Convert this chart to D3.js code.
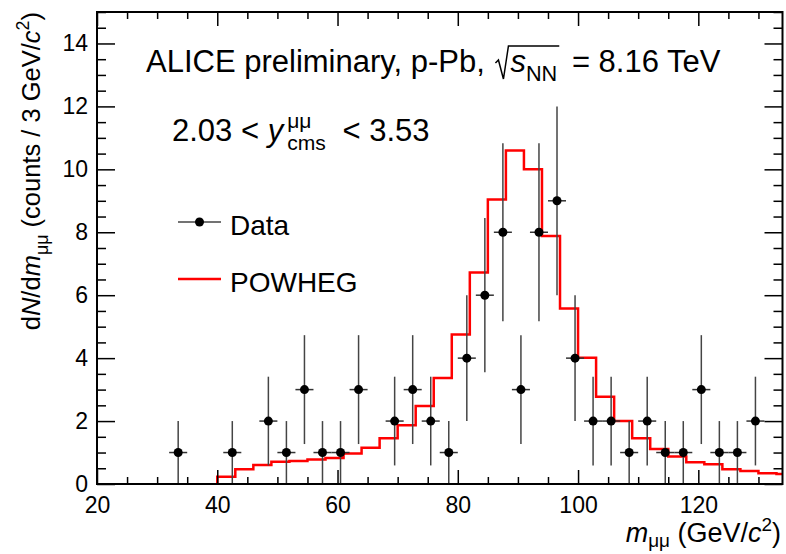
<!DOCTYPE html>
<html>
<head>
<meta charset="utf-8">
<script src="https://cdn.jsdelivr.net/npm/d3@7"></script>
<style>
  body { margin: 0; background: #fff; }
  text { font-family: "Liberation Sans", Arial, Helvetica, sans-serif; fill: #000; white-space: pre; }
</style>
</head>
<body>
<div id="chart"></div>
<script>
// data points: bin centres (GeV/c2), counts and read-off errors
const dataMass = [33.5, 42.5, 48.5, 51.5, 54.5, 57.5, 60.5, 63.5, 69.5, 72.5, 75.5, 78.5, 81.5, 84.5, 87.5,
  90.5, 93.5, 96.5, 99.5, 102.5, 105.5, 108.5, 111.5, 114.5, 117.5, 120.5, 123.5, 126.5, 129.5];
const dataCounts = [1, 1, 2, 1, 3, 1, 1, 3, 2, 3, 2, 1, 4, 6, 8, 3, 8, 9, 4, 2, 2, 1, 2, 1, 1, 3, 1, 1, 2];
const dataErr = [1, 1, 1.41, 1, 1.73, 1, 1, 1.73, 1.41, 1.73, 1.41, 1, 2, 2.45, 2.83, 1.73, 2.83, 3, 2, 1.41,
  1.41, 1, 1.41, 1, 1, 1.73, 1, 1, 1.41];
const binHalfWidth = 1.5;

// POWHEG histogram: lower bin edges and contents
const powhegEdges = [40, 43, 46, 49, 52, 55, 58, 61, 64, 67, 70, 73, 76, 79, 82, 85, 88, 91, 94, 97, 100,
  103, 106, 109, 112, 115, 118, 121, 124, 127, 130, 133];
const powhegValues = [0.23, 0.47, 0.6, 0.71, 0.73, 0.78, 0.83, 0.97, 1.15, 1.45, 1.87, 2.48, 3.37, 4.75,
  6.72, 9.04, 10.6, 10.0, 7.88, 5.58, 4.01, 2.77, 2.0, 1.45, 1.11, 0.87, 0.69, 0.63, 0.47, 0.41, 0.34, 0.32];
const powhegBinWidth = 3;

const xTicks = [20, 40, 60, 80, 100, 120];
const yTicks = [0, 2, 4, 6, 8, 10, 12, 14];

const W = 786, H = 554;
const margin = { top: 12, right: 3.5, bottom: 70, left: 97 };
const width = W - margin.left - margin.right;
const height = H - margin.top - margin.bottom;

const svg = d3.select('#chart').append('svg')
  .attr('width', W).attr('height', H);

const g = svg.append('g')
  .attr('transform', `translate(${margin.left},${margin.top})`);

const x = d3.scaleLinear().domain([20, 134]).range([0, width]);
const y = d3.scaleLinear().domain([0, 15]).range([height, 0]);

g.append('clipPath').attr('id', 'clip')
  .append('rect').attr('width', width).attr('height', height);

// histogram
const histPts = [{ x: powhegEdges[0], y: 0 }];
powhegEdges.forEach((e, i) => histPts.push({ x: e, y: powhegValues[i] }));
const last = powhegEdges.length - 1;
histPts.push({ x: powhegEdges[last] + powhegBinWidth, y: powhegValues[last] });

const line = d3.line()
  .x(d => x(d.x))
  .y(d => y(d.y))
  .curve(d3.curveStepAfter);

g.append('path')
  .datum(histPts)
  .attr('clip-path', 'url(#clip)')
  .attr('fill', 'none')
  .attr('stroke', '#ff0000')
  .attr('stroke-width', 2.5)
  .attr('d', line);

// data points
const pts = dataMass.map((m, i) => ({ m, n: dataCounts[i], e: dataErr[i] }));
const pg = g.append('g');
pg.selectAll('.ey').data(pts).enter().append('line')
  .attr('x1', d => x(d.m)).attr('x2', d => x(d.m))
  .attr('y1', d => y(d.n - d.e)).attr('y2', d => y(d.n + d.e))
  .attr('stroke', '#444').attr('stroke-width', 1.5);
pg.selectAll('.ex').data(pts).enter().append('line')
  .attr('x1', d => x(d.m - binHalfWidth)).attr('x2', d => x(d.m + binHalfWidth))
  .attr('y1', d => y(d.n)).attr('y2', d => y(d.n))
  .attr('stroke', '#333').attr('stroke-width', 1.5);
pg.selectAll('circle').data(pts).enter().append('circle')
  .attr('cx', d => x(d.m)).attr('cy', d => y(d.n)).attr('r', 4.5)
  .attr('fill', '#000');

// axes
const xMinor = d3.range(20, 135, 5).filter(v => v % 20 !== 0);
const yMinor = d3.range(0, 15.01, 0.5).filter(v => v % 2 !== 0);

function styleAxis(sel) {
  sel.select('.domain').remove();
  sel.selectAll('line').attr('stroke', '#000').attr('stroke-width', 1.5);
  sel.selectAll('text').attr('font-size', 23).attr('fill', '#000')
    .attr('font-family', '"Liberation Sans", Arial, sans-serif');
}

g.append('g').attr('transform', `translate(0,${height})`)
  .call(d3.axisBottom(x).tickValues(xTicks).tickSize(-14).tickPadding(13).tickFormat(d3.format('d')))
  .call(styleAxis);
g.append('g').attr('transform', `translate(0,${height})`)
  .call(d3.axisBottom(x).tickValues(xMinor).tickSize(-7).tickFormat(''))
  .call(styleAxis);
g.append('g')
  .call(d3.axisTop(x).tickValues(xTicks).tickSize(-14).tickFormat(''))
  .call(styleAxis);
g.append('g')
  .call(d3.axisTop(x).tickValues(xMinor).tickSize(-7).tickFormat(''))
  .call(styleAxis);

g.append('g')
  .call(d3.axisLeft(y).tickValues(yTicks).tickSize(-18).tickPadding(9).tickFormat(d3.format('d')))
  .call(styleAxis);
g.append('g')
  .call(d3.axisLeft(y).tickValues(yMinor).tickSize(-9).tickFormat(''))
  .call(styleAxis);
g.append('g').attr('transform', `translate(${width},0)`)
  .call(d3.axisRight(y).tickValues(yTicks).tickSize(-18).tickFormat(''))
  .call(styleAxis);
g.append('g').attr('transform', `translate(${width},0)`)
  .call(d3.axisRight(y).tickValues(yMinor).tickSize(-9).tickFormat(''))
  .call(styleAxis);

g.append('rect')
  .attr('width', width).attr('height', height)
  .attr('fill', 'none').attr('stroke', '#000').attr('stroke-width', 2);

// rich text helper: pieces placed one after another
function rich(parent, parts, size, subShift = 0.3) {
  let cx = 0;
  parts.forEach(p => {
    if (p.stack) {
      const fs = size * 0.68;
      const a = parent.append('text').attr('x', cx).attr('y', -size * 0.42)
        .attr('font-size', fs).text(p.stack[0]);
      const b = parent.append('text').attr('x', cx).attr('y', size * 0.3)
        .attr('font-size', fs).text(p.stack[1]);
      cx += Math.max(a.node().getComputedTextLength(), b.node().getComputedTextLength()) + (p.gap || 0);
      return;
    }
    const fs = p.sub || p.sup ? size * 0.7 : size;
    const dy = p.sub ? size * subShift : p.sup ? -size * 0.42 : 0;
    const t = parent.append('text').attr('x', cx).attr('y', dy)
      .attr('font-size', fs).text(p.t);
    if (p.it) t.attr('font-style', 'italic');
    cx += t.node().getComputedTextLength() + (p.gap || 0);
  });
  return { w: cx };
}

// header
const h1 = svg.append('g').attr('transform', 'translate(146,72)');
const r1 = rich(h1, [{ t: 'ALICE preliminary, p-Pb, ', gap: 17 }], 31);
const sq = h1.append('g').attr('transform', `translate(${r1.w},0)`);
const r1b = rich(sq, [{ t: 's', it: true }, { t: 'NN', sub: true, gap: 6 }], 31);
sq.append('path')
  .attr('d', `M-15,-9 L-12,-12 L-7,7 L-2,-26 L${r1b.w - 4},-26`)
  .attr('fill', 'none').attr('stroke', '#000').attr('stroke-width', 1.5);
const h1c = svg.append('g').attr('transform', `translate(${146 + r1.w + r1b.w},72)`);
rich(h1c, [{ t: ' = 8.16 TeV' }], 31);

const h2 = svg.append('g').attr('transform', 'translate(172,141)');
rich(h2, [{ t: '2.03 < ' }, { t: 'y', it: true, gap: 4 }, { stack: ['μμ', 'cms'], gap: 8 }, { t: ' < 3.53' }], 31);

// legend
const lg = svg.append('g');
lg.append('line').attr('x1', 178).attr('x2', 221).attr('y1', 222).attr('y2', 222)
  .attr('stroke', '#444').attr('stroke-width', 1.5);
lg.append('circle').attr('cx', 199.5).attr('cy', 222).attr('r', 4.5).attr('fill', '#000');
lg.append('text').attr('x', 230).attr('y', 235).attr('font-size', 28).text('Data');
lg.append('line').attr('x1', 178).attr('x2', 221).attr('y1', 279).attr('y2', 279)
  .attr('stroke', '#ff0000').attr('stroke-width', 2.5);
lg.append('text').attr('x', 230).attr('y', 292).attr('font-size', 28).text('POWHEG');

// axis titles
const xt = svg.append('g');
const rx = rich(xt, [{ t: 'm', it: true }, { t: 'μμ', sub: true }, { t: ' (GeV/' }, { t: 'c', it: true },
  { t: '2', sup: true }, { t: ')' }], 27, 0.2);
xt.attr('transform', `translate(${W - 5 - rx.w},542)`);

const yt = svg.append('g');
const ry = rich(yt, [{ t: 'd' }, { t: 'N', it: true }, { t: '/d' }, { t: 'm', it: true }, { t: 'μμ', sub: true },
  { t: ' (counts / 3 GeV/' }, { t: 'c', it: true }, { t: '2', sup: true }, { t: ')' }], 25.5);
yt.attr('transform', `translate(40,12) rotate(-90) translate(${-ry.w},0)`);
</script>
</body>
</html>
